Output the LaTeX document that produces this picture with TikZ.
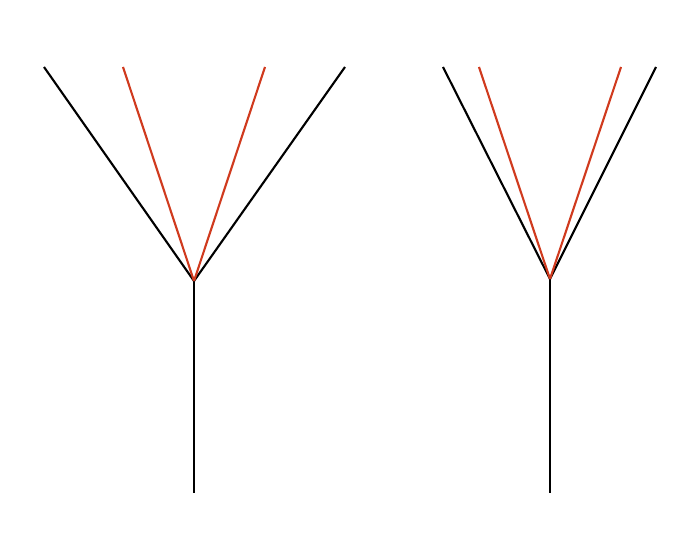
\documentclass[tikz,border=0pt]{standalone}
\usepackage{tikz}

\begin{document}
\begin{tikzpicture}
    % colours and line style
    \definecolor{branchred}{RGB}{208,58,30}
    \tikzset{stem/.style={line width=0.6pt, black},
             redline/.style={line width=0.6pt, branchred}}

    % picture frame (700 x 560 px)
    \useasboundingbox (0,0) rectangle (7,5.6);

    % height of the branch tips
    \def\top{4.93}

    % left fork: junction and stem foot
    \coordinate (J1) at (1.94, 2.79);
    \coordinate (F1) at (1.94, 0.67);
    \coordinate (A1) at (0.44, \top);
    \coordinate (B1) at (1.23, \top);
    \coordinate (C1) at (2.65, \top);
    \coordinate (D1) at (3.45, \top);

    \draw[stem] (F1) -- (J1);
    \draw[stem] (J1) -- (A1);
    \draw[stem] (J1) -- (D1);
    \draw[redline] (J1) -- (B1);
    \draw[redline] (J1) -- (C1);

    % right fork: narrower opening
    \coordinate (J2) at (5.50, 2.81);
    \coordinate (F2) at (5.50, 0.67);
    \coordinate (A2) at (4.43, \top);
    \coordinate (B2) at (4.79, \top);
    \coordinate (C2) at (6.21, \top);
    \coordinate (D2) at (6.56, \top);

    \draw[stem] (F2) -- (J2);
    \draw[stem] (J2) -- (A2);
    \draw[stem] (J2) -- (D2);
    \draw[redline] (J2) -- (B2);
    \draw[redline] (J2) -- (C2);

\end{tikzpicture}
\end{document}
